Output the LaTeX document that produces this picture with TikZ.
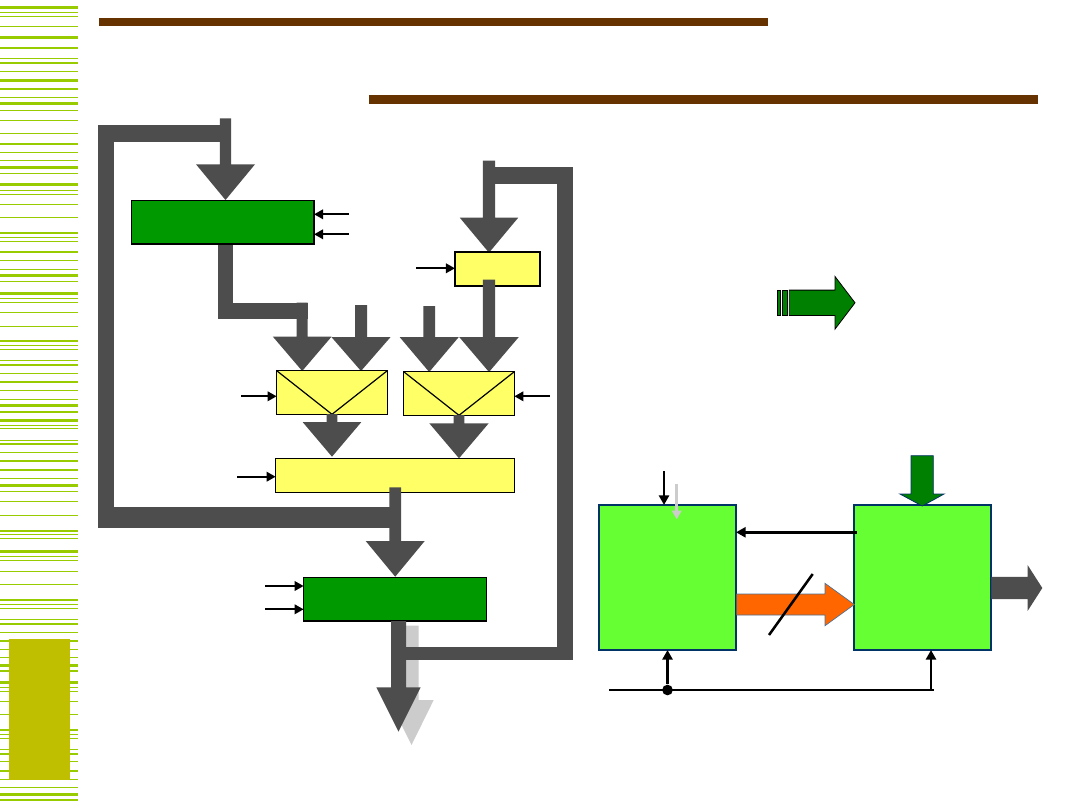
\documentclass[tikz,border=0pt]{standalone}
\usetikzlibrary{arrows.meta,fit}
\definecolor{bus}{HTML}{4D4D4D}
\definecolor{busl}{HTML}{CCCCCC}
\definecolor{stripe}{HTML}{99CC00}
\definecolor{olive}{HTML}{BFBF00}
\definecolor{brownbar}{HTML}{663300}
\definecolor{regg}{HTML}{009900}
\definecolor{muxy}{HTML}{FFFF66}
\definecolor{lgreen}{HTML}{66FF33}
\definecolor{navy}{HTML}{003366}
\definecolor{orng}{HTML}{FF6600}
\definecolor{dgreen}{HTML}{008000}
\newcommand\dnarrow[7][bus]{%
  \fill[#1] ({#2-#4},#3) -- ({#2+#4},#3) -- ({#2+#4},#5) -- ({#2+#6},#5) -- (#2,#7)
    -- ({#2-#6},#5) -- ({#2-#4},#5) -- cycle;}
\newcommand\rtarrow[7][bus]{%
  \path[#1] (#2,{#3-#4}) -- (#5,{#3-#4}) -- (#5,{#3-#6}) -- (#7,#3) -- (#5,{#3+#6})
    -- (#5,{#3+#4}) -- (#2,{#3+#4}) -- cycle;}
\tikzset{
  regbox/.style={draw=black, fill=regg, line width=1pt, inner sep=0pt, outer sep=0pt},
  ybox/.style={draw=black, fill=muxy, line width=1pt, inner sep=0pt, outer sep=0pt},
  gbox/.style={draw=navy, fill=lgreen, line width=1.3pt, inner sep=0pt, outer sep=0pt},
  ctl/.style={line width=1.75pt, -{Triangle[length=6.8pt,width=7pt]}},
  ctlr/.style={line width=1.9pt, -{Triangle[length=7.2pt,width=7.5pt]}},
  vline/.style={line width=0.9pt},
  dotnode/.style={circle, fill=black, inner sep=0pt, minimum size=8pt}
}
\begin{document}
\begin{tikzpicture}[x=0.75pt,y=-0.75pt]
\useasboundingbox (0,0) rectangle (1080,810);
\fill[white] (0,0) rectangle (1080,810);
% left stripes
\foreach \yy/\tt in {7.8/3,12.9/1,16.5/1.5,26.4/1.5,37.2/3,48.1/2,58.9/1,63.0/2,71.3/1.5,80.6/3,
  88.9/2,97.7/1.5,103.9/3,110.6/1.5,120.4/1.5,133.9/1,144.2/2,152.5/1.5,160.7/1,167.4/3,173.6/1.5,
  184.5/3,190.2/1,194.3/1,204.1/1,217.6/1,233.1/2,237.2/1,241.3/1,252.2/2,260.5/1.5,269.3/1,275.5/3,
  281.7/1.5,293.0/3,298.2/1,302.3/1,312.1/1,326.1/1,341.1/2,345.2/1,349.9/1,360.7/1.5,364.9/1.5,
  373.1/1,381.9/2,390.7/1.5,399.0/1,405.7/3,411.9/1.5,420.2/3,425.8/1,428.9/1,440.8/1,443.9/1.5,
  452.7/1,461.0/2,469.8/2,478.0/1,485.3/3,491.5/1.5,501.8/1,515.2/1,530.7/2,534.4/1,538.0/1,
  551.9/3,556.1/1,560.7/1,571.1/1,584.5/1,599.5/2,604.1/1,608.8/1,619.6/1.5,623.8/1.5,632.0/1,
  640.8/2,649.6/1.5,657.9/1,665.1/3,670.8/1.5,682.7/3,687.3/1,691.0/1,701.3/1,714.7/1,729.7/2,
  734.4/1,738.5/1,749.4/1.5,754.0/1.5,761.8/1,770.5/2,779.3/1.5,787.6/1,794.3/3,800.0/1.5}
  {\fill[stripe] (0,{\yy-\tt/2}) rectangle (78,{\yy+\tt/2});}
\fill[olive] (9,639) rectangle (70,780);
% title bars
\fill[brownbar] (99,17.5) rectangle (768,26);
\fill[brownbar] (369,95) rectangle (1038,103.5);

% ===== left datapath buses =====
\fill[bus] (98,125) rectangle (114.3,527.7);
\fill[bus] (98,125) rectangle (225,141.7);
\fill[bus] (98,507.3) rectangle (395,527.7);
\dnarrow{225.5}{118.3}{5.7}{164.3}{29.5}{200}
% r1 output path
\fill[bus] (217.7,244) rectangle (233.3,319.3);
\fill[bus] (217.7,302.7) rectangle (307.7,319.3);
\dnarrow{302.2}{302.7}{5.5}{336.7}{29.3}{371}
\dnarrow{361}{305}{6}{337}{29.6}{371}
\dnarrow{429.2}{306}{5.8}{337}{29.6}{372}
% right loop
\fill[bus] (483,166.7) rectangle (573.3,184.3);
\fill[bus] (556.7,166.7) rectangle (573.3,660);
\dnarrow{489}{160.7}{6.2}{217.7}{29.2}{252.7}
% boxes
\node[regbox, fit={(131.3,200.3) (314,244)}] (r1) {};
\node[ybox, fit={(455,252) (540,286)}] (yb) {};
\dnarrow{489}{279.7}{6.2}{337}{29.8}{372}
\node[ybox, fit={(276.7,370.7) (387.3,414.3)}] (m1) {};
\node[ybox, fit={(403.7,371.7) (514.3,415.3)}] (m2) {};
\draw[vline] (m1.north west) -- (m1.south) -- (m1.north east);
\draw[vline] (m2.north west) -- (m2.south) -- (m2.north east);
\dnarrow{332}{414}{5.3}{422}{29.4}{456.7}
\dnarrow{459}{415}{5.3}{423.3}{29.7}{458.3}
\node[ybox, fit={(275.7,458.7) (514.3,492.7)}] (add) {};
\dnarrow{395.2}{487.3}{5.8}{541}{29.5}{576.7}
\node[regbox, fit={(303.7,577.7) (486.7,621)}] (r2) {};
% output with shadow
\dnarrow[busl]{411.5}{625.7}{7}{700}{22.2}{745}
\dnarrow{398.5}{621}{7.5}{687.3}{22.2}{731.7}
\fill[bus] (405,647.3) rectangle (573.3,660);

% control arrows
\coordinate (k1) at (348.7,214.3);
\coordinate (k2) at (348.7,234.3);
\draw[ctl] (k1) -- (k1 -| r1.east);
\draw[ctl] (k2) -- (k2 -| r1.east);
\coordinate (k3) at (416,268.3);
\draw[ctl] (k3) -- (k3 -| yb.west);
\coordinate (k4) at (241,396.3);
\draw[ctl] (k4) -- (k4 -| m1.west);
\coordinate (k5) at (550,396.3);
\draw[ctl] (k5) -- (k5 -| m2.east);
\coordinate (k6) at (237.3,476.7);
\draw[ctl] (k6) -- (k6 -| add.west);
\coordinate (k7) at (265,586);
\coordinate (k8) at (265,609.3);
\draw[ctl] (k7) -- (k7 -| r2.west);
\draw[ctl] (k8) -- (k8 -| r2.west);

% legend striped arrow
\filldraw[fill=dgreen, draw=black, line width=0.6pt] (777.3,290) rectangle (780.7,315.3);
\filldraw[fill=dgreen, draw=black, line width=0.6pt] (782,290) rectangle (787.3,315.3);
\rtarrow[fill=dgreen, draw=black, line width=0.6pt]{789.3}{302.8}{12.7}{835}{26.3}{855}

% ===== right diagram =====
\node[gbox, fit={(599,505) (736,650)}] (A) {};
\node[gbox, fit={(854,505) (990.7,650)}] (B) {};
\rtarrow[fill=orng, draw=navy!70, line width=0.5pt]{736.6}{604.5}{10.5}{825}{21.2}{854.3}
\draw[line width=1.9pt] (769,635) -- (812.7,574);
\rtarrow[fill=bus]{991.3}{588}{11.2}{1027.7}{22.8}{1042.3}
\path[fill=dgreen, draw=navy, line width=0.6pt] (911,455.7) -- (933.3,455.7) -- (933.3,494) -- (944,494) -- (922.2,506) -- (900,494) -- (911,494) -- cycle;
\coordinate (t1) at (664,471);
\draw[ctlr] (t1) -- (t1 |- A.north);
\coordinate (t2) at (676.7,484);
\coordinate (t3) at (676.7,519.3);
\draw[line width=2.2pt, color=busl, -{Triangle[length=6.5pt,width=7pt]}] (t2) -- (t3);
\coordinate (yba) at (0,532.3);
\draw[ctlr] ([xshift=2pt]B.west |- yba) -- (A.east |- yba);
\coordinate (bl) at (609.3,690);
\coordinate (br) at (934.3,690);
\coordinate (bu) at (931,690);
\draw[line width=1.9pt] (bl) -- (br);
\node[dotnode] (dt) at (A.south |- bl) {};
\draw[ctlr] (dt) -- (A.south);
\draw[ctlr] (bu) -- (bu |- B.south);
\end{tikzpicture}
\end{document}
